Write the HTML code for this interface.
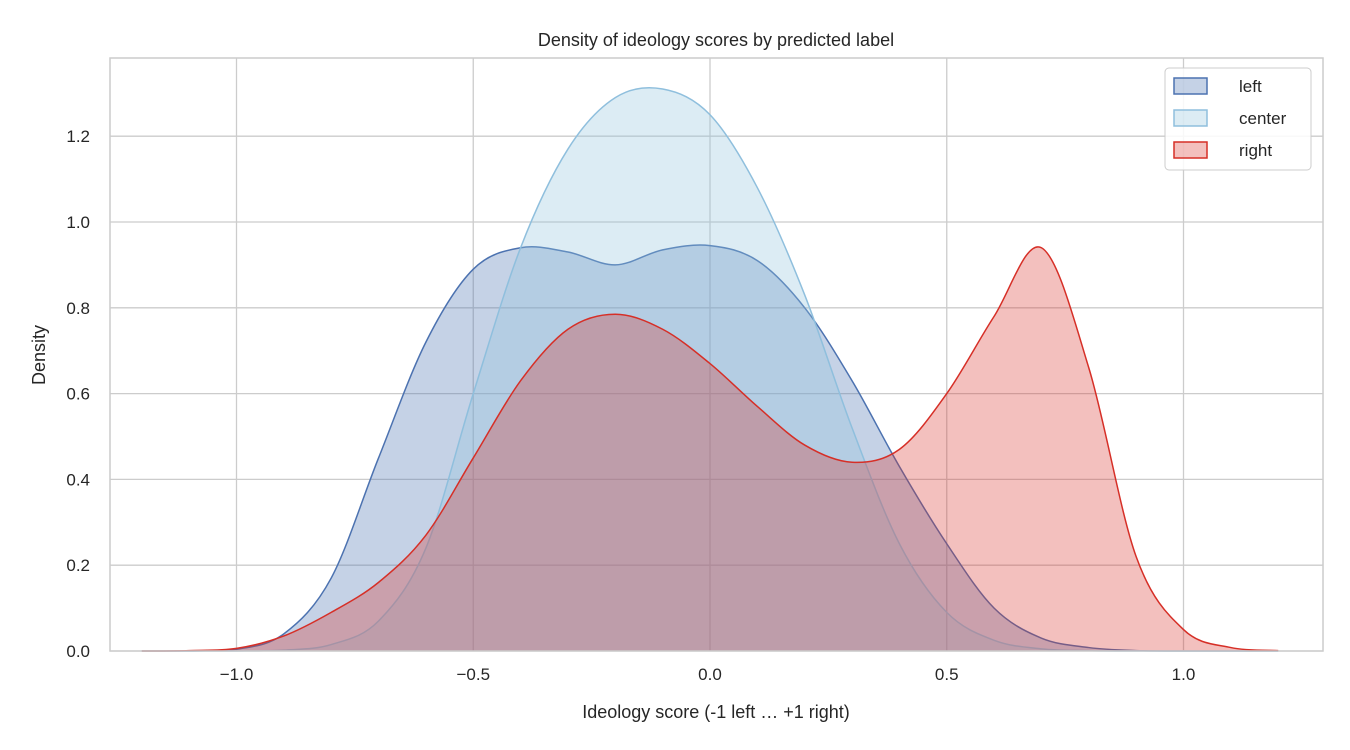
<!DOCTYPE html>
<html><head><meta charset="utf-8">
<style>
body{margin:0;background:#fff;}
svg{display:block;font-family:"Liberation Sans",sans-serif;}
</style></head>
<body>
<svg id="chart" width="1350" height="750"></svg>
<script>
const xs = [-1.2,-1.1,-1.0,-0.9,-0.8,-0.7,-0.6,-0.5,-0.4,-0.3,-0.2,-0.1,0.0,0.1,0.2,0.3,0.4,0.5,0.6,0.7,0.8,0.9,1.0,1.1,1.2];
const leftVals =   [0,0,0.004,0.04,0.17,0.45,0.72,0.89,0.94,0.93,0.90,0.935,0.945,0.91,0.80,0.63,0.43,0.25,0.10,0.03,0.008,0.001,0,0,0];
const centerVals = [0,0,0,0.002,0.015,0.07,0.24,0.60,0.94,1.17,1.29,1.31,1.25,1.08,0.83,0.52,0.25,0.09,0.025,0.005,0.001,0,0,0,0];
const rightVals =  [0,0.001,0.006,0.035,0.09,0.16,0.27,0.45,0.63,0.75,0.785,0.75,0.67,0.57,0.48,0.44,0.47,0.60,0.78,0.94,0.66,0.22,0.05,0.008,0.001];
const xTicks = [-1.0,-0.5,0.0,0.5,1.0];
const xTickLabels = ["\u22121.0","\u22120.5","0.0","0.5","1.0"];
const yTicks = [0,0.2,0.4,0.6,0.8,1.0,1.2];
const yTickLabels = ["0.0","0.2","0.4","0.6","0.8","1.0","1.2"];

const L=110,R=1323,T=58,B=651;
const X = v => 710 + v*473.5;
const Y = v => 651 - v*429;
const svg = document.getElementById('chart');
const NS='http://www.w3.org/2000/svg';
function mk(tag, attrs, parent){const e=document.createElementNS(NS,tag);for(const k in attrs)e.setAttribute(k,attrs[k]);(parent||svg).appendChild(e);return e;}

xTicks.forEach((t,i)=>{
  const g=mk('line',{x1:X(t),x2:X(t),y1:T,y2:B,stroke:'#cccccc','stroke-width':1.3});
  
  
  const tx=mk('text',{x:X(t),y:680,'text-anchor':'middle','font-size':17,fill:'#262626'});
  tx.textContent=xTickLabels[i];
  
  
});
yTicks.forEach((t,i)=>{
  const g=mk('line',{x1:L,x2:R,y1:Y(t),y2:Y(t),stroke:'#cccccc','stroke-width':1.3});
  
  
  const tx=mk('text',{x:90,y:Y(t)+6,'text-anchor':'end','font-size':17,fill:'#262626'});
  tx.textContent=yTickLabels[i];
  
  
});

function pathD(vals){
  const p = xs.map((x,i)=>[X(x),Y(vals[i])]);
  let d='M'+p[0][0]+','+p[0][1];
  for(let i=0;i<p.length-1;i++){
    const p0=p[Math.max(0,i-1)],p1=p[i],p2=p[i+1],p3=p[Math.min(p.length-1,i+2)];
    const c1=[p1[0]+(p2[0]-p0[0])/6,p1[1]+(p2[1]-p0[1])/6];
    const c2=[p2[0]-(p3[0]-p1[0])/6,p2[1]-(p3[1]-p1[1])/6];
    d+=` C${c1[0]},${Math.min(B,c1[1])} ${c2[0]},${Math.min(B,c2[1])} ${p2[0]},${p2[1]}`;
  }
  return d;
}
const series=[
  {name:'left',vals:leftVals,stroke:'#4c72b0',fill:'rgba(76,114,176,0.32)'},
  {name:'center',vals:centerVals,stroke:'#8fbfdd',fill:'rgba(146,197,222,0.32)'},
  {name:'right',vals:rightVals,stroke:'#d62f27',fill:'rgba(214,47,39,0.3)'}
];
series.forEach(s=>{
  const d=pathD(s.vals);
  const f=mk('path',{d:d+` L${X(xs[xs.length-1])},${B} L${X(xs[0])},${B} Z`,fill:s.fill,stroke:'none'});
  
  
  const l=mk('path',{d:d,fill:'none',stroke:s.stroke,'stroke-width':1.5});
  
  
});
const fr=mk('rect',{x:L,y:T,width:R-L,height:B-T,fill:'none',stroke:'#cccccc','stroke-width':1.5});



const lg=mk('g',{});


mk('rect',{x:1165,y:68,width:146,height:102,rx:4,fill:'rgba(255,255,255,0.85)',stroke:'#cccccc'},lg);
series.forEach((s,i)=>{
  const y=78+i*32;
  const sw=mk('rect',{x:1174,y:y,width:33,height:16,fill:s.fill,stroke:s.stroke,'stroke-width':1.5},lg);
  
  
  const t=mk('text',{x:1239,y:y+14,'font-size':17,fill:'#262626'},lg);
  t.textContent=s.name;
  
  
});

const title=mk('text',{x:716,y:46,'text-anchor':'middle','font-size':18,fill:'#262626'});
title.textContent='Density of ideology scores by predicted label';


const xt=mk('text',{x:716,y:718,'text-anchor':'middle','font-size':18,fill:'#262626'});
xt.textContent='Ideology score (-1 left \u2026 +1 right)';


const yt=mk('text',{x:45,y:355,'text-anchor':'middle','font-size':18,fill:'#262626',transform:'rotate(-90 45 355)'});
yt.textContent='Density';


</script>
</body></html>
